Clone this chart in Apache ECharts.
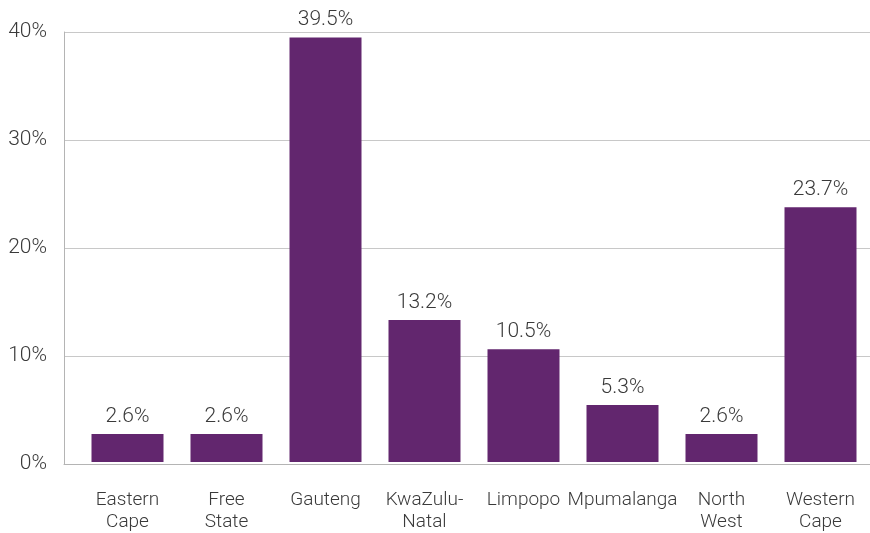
<!DOCTYPE html>
<html><head><meta charset="utf-8">
<script src="https://cdn.jsdelivr.net/npm/echarts@6/dist/echarts.min.js"></script>
<style>html,body{margin:0;padding:0;background:#fff}#c{width:870px;height:533px}</style>
</head><body><div id="c"></div>
<script>
const categories = ["Eastern\nCape","Free\nState","Gauteng","KwaZulu-\nNatal","Limpopo","Mpumalanga","North\nWest","Western\nCape"];
const values = [2.6, 2.6, 39.5, 13.2, 10.5, 5.3, 2.6, 23.7];
const yTicks = [0, 10, 20, 30, 40];

const font = 'Roboto';
const txt = '#3a3a3a';
const chart = echarts.init(document.getElementById('c'));
chart.setOption({
  animation: false,
  textStyle: {fontFamily: font},
  grid: [
    {left: 64, right: 0, top: 32, bottom: 69},
    {left: 78, right: -6, top: 32, bottom: 69}
  ],
  xAxis: [
    {gridIndex: 0, type: 'value', min: 0, max: 1, show: true,
     axisLine: {show: true, lineStyle: {color: '#b4b4b4', width: 1}},
     axisTick: {show: false}, axisLabel: {show: false}, splitLine: {show: false}},
    {gridIndex: 1, type: 'category', data: categories,
     axisLine: {show: false}, axisTick: {show: false},
     axisLabel: {color: txt, fontSize: 19, fontWeight: 300, fontFamily: font, margin: 27, lineHeight: 22, interval: 0}}
  ],
  yAxis: [
    {gridIndex: 0, type: 'value', min: yTicks[0], max: yTicks[yTicks.length-1], interval: 10,
     axisLine: {show: true, lineStyle: {color: '#b4b4b4', width: 1}},
     axisTick: {show: false},
     axisLabel: {color: txt, fontSize: 21, fontWeight: 300, fontFamily: font, margin: 17, formatter: '{value}%'},
     splitLine: {show: true, lineStyle: {color: '#c8c8c8', width: 1}}},
    {gridIndex: 1, type: 'value', min: yTicks[0], max: yTicks[yTicks.length-1], interval: 10, show: false, splitLine: {show: false}}
  ],
  series: [{
    type: 'bar', xAxisIndex: 1, yAxisIndex: 1, data: values, barWidth: 72, z: 1,
    itemStyle: {color: '#62266e', borderWidth: 0},
    label: {show: true, position: 'top', distance: 7, color: txt, fontSize: 21, fontWeight: 300, fontFamily: font,
      formatter: p => p.value.toFixed(1) + '%'}
  }]
});
</script></body></html>
